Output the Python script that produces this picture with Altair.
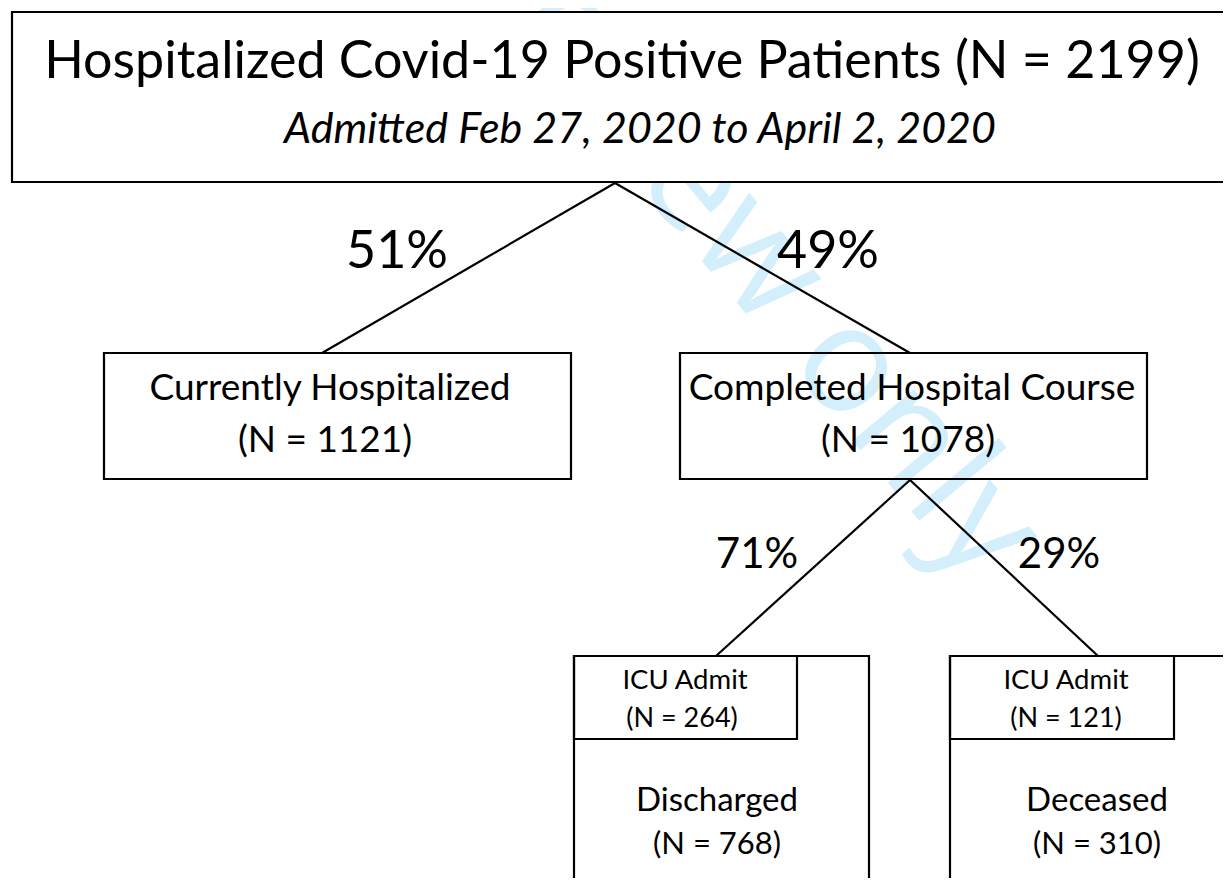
import altair as alt
import pandas as pd

# ---- boxes (page pixel coordinates) ----
box_names = ["top", "current", "completed", "discharged", "icu_left", "deceased", "icu_right"]
box_x1 = [12, 104, 680, 574, 574, 950, 950]
box_x2 = [1240, 571, 1147, 869, 797, 1240, 1174]
box_y1 = [12, 353, 353, 656, 656, 656, 656]
box_y2 = [182, 479, 479, 900, 739, 900, 739]

# ---- connector lines ----
line_x1 = [615, 615, 910, 910]
line_y1 = [183, 183, 480, 480]
line_x2 = [322, 910, 716, 1098]
line_y2 = [353, 353, 656, 656]

# ---- texts ----
title_text = ["Hospitalized Covid-19 Positive Patients (N = 2199)"]
title_x = [622]
title_y = [78]
sub_text = ["Admitted Feb 27, 2020 to April 2, 2020"]
sub_x = [640]
sub_y = [143]

label_text = ["51%", "49%",
              "Currently Hospitalized", "(N = 1121)",
              "Completed Hospital Course", "(N = 1078)",
              "71%", "29%",
              "ICU Admit", "(N = 264)", "ICU Admit", "(N = 121)",
              "Discharged", "(N = 768)", "Deceased", "(N = 310)"]
label_x = [397, 828, 330, 325, 912, 908, 757, 1059,
           685, 682, 1066, 1066, 717, 717, 1097, 1097]
label_y = [268, 268, 400, 452, 400, 452, 568, 568,
           689, 727, 689, 727, 811, 854, 811, 854]
label_size = [52, 52, 37, 37, 37, 37, 42, 42,
              27.5, 27, 27.5, 27, 33, 31, 33, 31]

wm_text = ["For peer review only"]
wm_x = [976]
wm_y = [588]

W, H = 1215, 870
xs = alt.Scale(domain=[8, 8 + W], nice=False, zero=False)
ys = alt.Scale(domain=[8, 8 + H], nice=False, zero=False, reverse=True)

boxes = pd.DataFrame({"name": box_names, "x1": box_x1, "x2": box_x2, "y1": box_y1, "y2": box_y2})
lines = pd.DataFrame({"x1": line_x1, "y1": line_y1, "x2": line_x2, "y2": line_y2})
labels = pd.DataFrame({"t": label_text, "x": label_x, "y": label_y, "s": label_size})
title_df = pd.DataFrame({"t": title_text, "x": title_x, "y": title_y})
sub_df = pd.DataFrame({"t": sub_text, "x": sub_x, "y": sub_y})
wm_df = pd.DataFrame({"t": wm_text, "x": wm_x, "y": wm_y})

FONT = "Lato"

wm = alt.Chart(wm_df).mark_text(
    font="Open Sans", fontSize=150, color="#d4effc", angle=50,
    align="right", baseline="alphabetic", clip=True
).encode(x=alt.X("x:Q", scale=xs, axis=None), y=alt.Y("y:Q", scale=ys, axis=None), text="t:N")

top_box = alt.Chart(boxes[boxes["name"] == "top"]).mark_rect(
    fill="white", stroke="black", strokeWidth=2.2, clip=True
).encode(x=alt.X("x1:Q", scale=xs, axis=None), x2="x2:Q",
         y=alt.Y("y1:Q", scale=ys, axis=None), y2="y2:Q")

other_boxes = alt.Chart(boxes[boxes["name"] != "top"]).mark_rect(
    fill=None, fillOpacity=0, stroke="black", strokeWidth=2.2, clip=True
).encode(x=alt.X("x1:Q", scale=xs, axis=None), x2="x2:Q",
         y=alt.Y("y1:Q", scale=ys, axis=None), y2="y2:Q")

rules = alt.Chart(lines).mark_rule(color="black", strokeWidth=2.2, clip=True).encode(
    x=alt.X("x1:Q", scale=xs, axis=None), x2="x2:Q",
    y=alt.Y("y1:Q", scale=ys, axis=None), y2="y2:Q")

title = alt.Chart(title_df).mark_text(
    font=FONT, fontSize=52, color="black", align="center", baseline="alphabetic"
).encode(x=alt.X("x:Q", scale=xs, axis=None), y=alt.Y("y:Q", scale=ys, axis=None), text="t:N")

sub = alt.Chart(sub_df).mark_text(
    font=FONT, fontSize=43, fontStyle="italic", color="black", align="center", baseline="alphabetic"
).encode(x=alt.X("x:Q", scale=xs, axis=None), y=alt.Y("y:Q", scale=ys, axis=None), text="t:N")

lab = alt.Chart(labels).mark_text(
    font=FONT, color="black", align="center", baseline="alphabetic"
).encode(x=alt.X("x:Q", scale=xs, axis=None), y=alt.Y("y:Q", scale=ys, axis=None),
         text="t:N", size=alt.Size("s:Q", scale=None, legend=None))

chart = alt.layer(wm, top_box, other_boxes, rules, title, sub, lab).properties(
    width=W, height=H, padding=0, autosize=alt.AutoSizeParams(type="none"),
    background="white"
).configure_view(stroke=None)

chart.save("out.html", embed_options={"renderer": "svg", "actions": False})
